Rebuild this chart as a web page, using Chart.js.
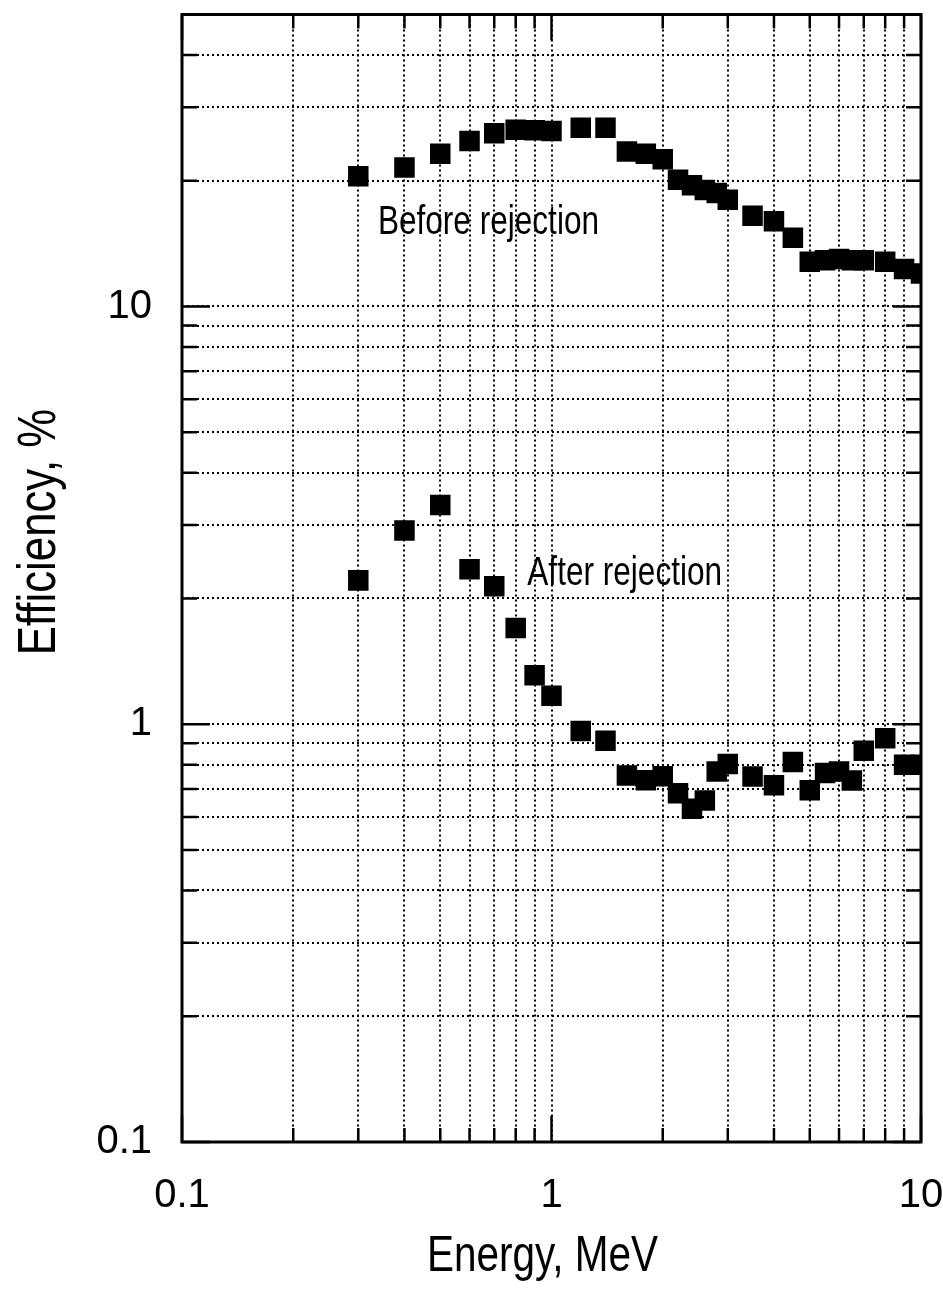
<!DOCTYPE html>
<html>
<head>
<meta charset="utf-8">
<script src="https://cdn.jsdelivr.net/npm/chart.js@4.4.1/dist/chart.umd.min.js"></script>
<style>
  html, body { margin: 0; padding: 0; background: #fff; }
  #wrap { width: 943px; height: 1300px; }
</style>
</head>
<body>
<div id="wrap"><canvas id="effChart"></canvas></div>
<script>
// energy points, MeV
var energy = [0.3, 0.4, 0.5, 0.6, 0.7, 0.8, 0.9, 1.0, 1.2, 1.4, 1.6, 1.8, 2.0, 2.2, 2.4,
    2.6, 2.8, 3.0, 3.5, 4.0, 4.5, 5.0, 5.5, 6.0, 6.5, 7.0, 8.0, 9.0, 10.0];

// efficiency, %
var beforeRejection = [20.5, 21.5, 23.2, 24.9, 26.0, 26.5, 26.4, 26.3, 26.8, 26.8, 23.5, 23.2,
    22.5, 20.1, 19.5, 19.0, 18.7, 18.0, 16.5, 16.0, 14.6, 12.8, 12.9, 13.0, 12.9, 12.9, 12.8, 12.3, 12.0];
var afterRejection = [2.21, 2.91, 3.35, 2.35, 2.14, 1.70, 1.31, 1.17, 0.964, 0.913, 0.754, 0.734,
    0.751, 0.684, 0.628, 0.657, 0.771, 0.803, 0.750, 0.714, 0.812, 0.695, 0.764, 0.771, 0.733, 0.864, 0.926, 0.80, 0.80];

// grid / tick positions and which ones get a label
var xTicks = [0.1, 0.2, 0.3, 0.4, 0.5, 0.6, 0.7, 0.8, 0.9, 1, 2, 3, 4, 5, 6, 7, 8, 9, 10];
var yTicks = [0.1, 0.2, 0.3, 0.4, 0.5, 0.6, 0.7, 0.8, 0.9, 1, 2, 3, 4, 5, 6, 7, 8, 9, 10, 20, 30, 40, 50];
var xLabels = [0.1, 1, 10];
var yLabels = [0.1, 1, 10];

// text inside the plot (data coords of left end / baseline)
var notes = [
    { text: "Before rejection", x: 0.339, y: 14.9 },
    { text: "After rejection", x: 0.86, y: 2.16 }
];
var xTitle = "Energy, MeV";
var yTitle = "Efficiency, %";

var helv = "'Liberation Sans', Arial, sans-serif";

function toPoints(ys) {
    return energy.map(function (e, i) { return { x: e, y: ys[i] }; });
}

function isDecade(v) {
    var l = Math.log10(v);
    return Math.abs(l - Math.round(l)) < 1e-6;
}

// helvetica squeezed sideways, the original uses a condensed face
function narrowText(ctx, text, x, y, size, squeeze, angle) {
    ctx.save();
    ctx.font = size + "px " + helv;
    ctx.textBaseline = 'alphabetic';
    ctx.translate(x, y);
    if (angle) ctx.rotate(angle);
    ctx.scale(squeeze, 1);
    ctx.fillText(text, 0, 0);
    ctx.restore();
}

var framePlugin = {
    id: 'frame',
    afterDraw: function (chart) {
        var ctx = chart.ctx;
        var a = chart.chartArea;
        var xs = chart.scales.x;
        var ys = chart.scales.y;
        ctx.save();
        ctx.strokeStyle = '#000';
        ctx.fillStyle = '#000';

        // inward ticks, all four sides
        ctx.lineWidth = 2.5;
        ctx.beginPath();
        xTicks.forEach(function (v) {
            var px = xs.getPixelForValue(v);
            var len = isDecade(v) ? 26 : 14;
            ctx.moveTo(px, a.bottom);
            ctx.lineTo(px, a.bottom - len);
            ctx.moveTo(px, a.top);
            ctx.lineTo(px, a.top + len);
        });
        yTicks.forEach(function (v) {
            var py = ys.getPixelForValue(v);
            var len = isDecade(v) ? 28 : 15;
            ctx.moveTo(a.left, py);
            ctx.lineTo(a.left + len, py);
            ctx.moveTo(a.right, py);
            ctx.lineTo(a.right - len, py);
        });
        ctx.stroke();

        ctx.lineWidth = 3;
        ctx.strokeRect(a.left, a.top, a.right - a.left, a.bottom - a.top);

        ctx.textAlign = 'left';
        notes.forEach(function (n) {
            narrowText(ctx, n.text, xs.getPixelForValue(n.x), ys.getPixelForValue(n.y), 41, 0.77);
        });

        ctx.textAlign = 'center';
        narrowText(ctx, xTitle, (a.left + a.right) / 2 - 9, a.bottom + 129, 50, 0.81);
        narrowText(ctx, yTitle, 55, 532, 54, 0.81, -Math.PI / 2);
        ctx.restore();
    }
};

new Chart(document.getElementById('effChart'), {
    type: 'scatter',
    data: {
        datasets: [{
            label: 'Before rejection',
            data: toPoints(beforeRejection),
            pointStyle: 'rect',
            pointRadius: 14.5,
            backgroundColor: '#000',
            borderWidth: 0
        }, {
            label: 'After rejection',
            data: toPoints(afterRejection),
            pointStyle: 'rect',
            pointRadius: 14.5,
            backgroundColor: '#000',
            borderWidth: 0
        }]
    },
    options: {
        responsive: true,
        maintainAspectRatio: false,
        animation: false,
        devicePixelRatio: 1,
        layout: { padding: { left: 0, right: 22, top: 10, bottom: 0 } },
        plugins: {
            legend: { display: false },
            tooltip: { enabled: false }
        },
        scales: {
            x: {
                type: 'logarithmic',
                min: 0.1,
                max: 10,
                afterBuildTicks: function (scale) {
                    scale.ticks = xTicks.map(function (v) { return { value: v }; });
                },
                afterFit: function (scale) {
                    scale.height = 158;
                    scale.paddingLeft = 0;
                    scale.paddingRight = 0;
                },
                grid: { color: '#000', lineWidth: 2, drawTicks: false },
                border: { display: false, dash: [2, 3] },
                ticks: {
                    autoSkip: false,
                    maxRotation: 0,
                    padding: 30,
                    color: '#000',
                    font: { family: helv, size: 40 },
                    callback: function (v) { return xLabels.indexOf(v) >= 0 ? String(v) : ''; }
                }
            },
            y: {
                type: 'logarithmic',
                min: 0.1,
                max: 50,
                afterBuildTicks: function (scale) {
                    scale.ticks = yTicks.map(function (v) { return { value: v }; });
                },
                afterFit: function (scale) {
                    scale.width = 182;
                    scale.paddingTop = 0;
                    scale.paddingBottom = 0;
                },
                grid: { color: '#000', lineWidth: 2, drawTicks: false },
                border: { display: false, dash: [2, 3] },
                ticks: {
                    autoSkip: false,
                    padding: 30,
                    color: '#000',
                    font: { family: helv, size: 40 },
                    callback: function (v) { return yLabels.indexOf(v) >= 0 ? String(v) : ''; }
                }
            }
        }
    },
    plugins: [framePlugin]
});
</script>
</body>
</html>
